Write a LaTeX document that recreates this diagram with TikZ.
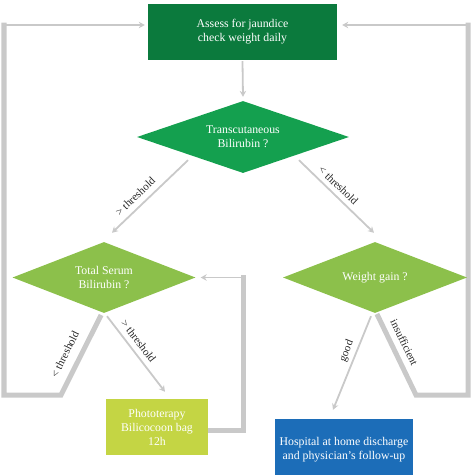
\documentclass[tikz,border=0pt]{standalone}
\usepackage{fontspec}
\setmainfont{Liberation Serif}
\usetikzlibrary{shapes.geometric,arrows.meta,calc,backgrounds}
\definecolor{dkgreen}{HTML}{0B7A3D}
\definecolor{mdgreen}{HTML}{14A04F}
\definecolor{ltgreen}{HTML}{8CC04B}
\definecolor{ylgreen}{HTML}{C4D544}
\definecolor{myblue}{HTML}{1C6DB8}
\definecolor{lgray}{HTML}{C9C9C9}
\begin{document}
\begin{tikzpicture}[x=1pt,y=-1pt,
  boxnode/.style={rectangle, inner sep=0pt, align=center, text=white,
    font=\fontsize{11.8}{14}\selectfont},
  dianode/.style={diamond, aspect=3, inner sep=0pt, align=center, text=white,
    font=\fontsize{11.8}{14}\selectfont},
  arr/.style={draw=lgray, line width=1.8pt, -{Stealth[length=6pt,width=6.5pt]}},
  fat/.style={draw=lgray, line width=5pt, line cap=rect},
  lbl/.style={sloped, font=\fontsize{11}{12}\selectfont, text=black!85, inner sep=2pt}]
\useasboundingbox (0,0) rectangle (474,475);

\node[boxnode, fill=dkgreen, minimum width=189, minimum height=56] (top) at (242.5,32)
  {Assess for jaundice\\check weight daily};
\node[dianode, fill=mdgreen, minimum width=212, minimum height=72] (d1) at (243,137)
  {Transcutaneous\\Bilirubin ?};
\node[dianode, fill=ltgreen, minimum width=183, minimum height=71] (d2) at (104,277.5)
  {Total Serum\\Bilirubin ?};
\node[dianode, fill=ltgreen, minimum width=184, minimum height=71] (d3) at (375,277.5)
  {Weight gain ?};
\node[boxnode, fill=ylgreen, minimum width=102, minimum height=56] (photo) at (157,427)
  {Phototerapy\\Bilicocoon bag\\12h};
\node[boxnode, fill=myblue, minimum width=138, minimum height=62] (home) at (344,450)
  {Hospital at home discharge\\and physician’s follow-up};

\coordinate (cL1) at (61,395);
\coordinate (cL2) at (4,395);
\coordinate (cL3) at (4,25);
\coordinate (cR1) at (416,395);
\coordinate (cR2) at (468,395);
\coordinate (cR3) at (468,25);
\coordinate (cP1) at (243,430);
\coordinate (cP2) at (243,277.5);

\begin{scope}[on background layer]
\draw[arr] ($(top.south)+(0,1)$) -- ($(d1.north)+(0,-4)$);
\draw[arr] ($(d1.south)+(-55,-13)$) -- node[lbl, pos=.6, above=3.5pt] {> threshold} ($(d2.north)+(8,-9)$);
\draw[arr] ($(d1.south)+(56,-13)$) -- node[lbl, pos=.44, above=2.5pt] {< threshold} ($(d3.north)+(-1,-9)$);
\draw[arr] ($(d2.south)+(3,3)$) -- node[lbl, pos=.41, above=3pt] {> threshold} ($(photo.north)+(8,-7)$);
\draw[arr] ($(d3.south)+(-4,3)$) -- node[lbl, pos=.41, above=1.5pt] {good} ($(home.north)+(-11,-9)$);

\draw[fat] ($(d2.south)+(-4,4)$) -- node[lbl, pos=.56, above=6.5pt] {< threshold} (cL1) -- (cL2) -- (cL3);
\draw[arr] (cL3) -- ($(top.west)+(-3,-7)$);

\draw[fat] ($(d3.south)+(3,3)$) -- node[lbl, pos=.4, above=4pt] {insufficient} (cR1) -- (cR2) -- (cR3);
\draw[arr] (cR3) -- ($(top.east)+(5,-7)$);

\draw[fat] ($(photo.east)+(0,3)$) -- (cP1) -- (cP2);
\draw[arr] (cP2) -- ($(d2.east)+(5,0)$);
\end{scope}
\end{tikzpicture}
\end{document}
